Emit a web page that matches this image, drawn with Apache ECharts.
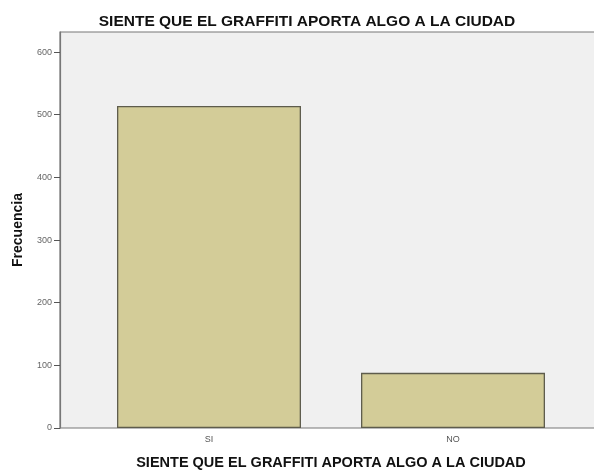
<!DOCTYPE html>
<html>
<head>
<meta charset="utf-8">
<script src="https://cdn.jsdelivr.net/npm/echarts@6/dist/echarts.min.js"></script>
<style>
  html, body { margin: 0; padding: 0; background: #fff; }
  #chart { width: 594px; height: 472px; }
</style>
</head>
<body>
<div id="chart"></div>
<script>
const titleText = "SIENTE QUE EL GRAFFITI APORTA ALGO A LA CIUDAD";
const categories = ["SI", "NO"];
const frecuencia = [514, 88];
const yTicks = [0, 100, 200, 300, 400, 500, 600];

const chart = echarts.init(document.getElementById("chart"));

chart.setOption({
  animation: false,
  textStyle: { fontFamily: "Liberation Sans, Arial, sans-serif" },
  title: {
    text: titleText,
    left: 302,
    top: 9,
    textAlign: "center",
    textStyle: { fontSize: 15.5, fontWeight: "bold", color: "#111" },
  },
  // plot background, extends past the category band like the SPSS frame
  graphic: [
    {
      type: "rect",
      z: -10,
      shape: { x: 60, y: 32, width: 545, height: 396 },
      style: { fill: "#f0f0f0", stroke: "#777", lineWidth: 1.2 },
    },
  ],
  grid: { left: 87, right: 19, top: 32, bottom: 44, outerBoundsMode: "none", containLabel: false },
  xAxis: {
    type: "category",
    data: categories,
    name: titleText,
    nameLocation: "middle",
    nameGap: 27,
    nameTextStyle: { fontSize: 14.5, fontWeight: "bold", color: "#111" },
    axisLine: { show: false },
    axisTick: { alignWithLabel: true, length: 5, lineStyle: { color: "#555" } },
    axisLabel: { fontSize: 9, color: "#555", margin: 7 },
  },
  yAxis: {
    type: "value",
    min: 0,
    max: 632,
    offset: 27,
    name: "Frecuencia",
    nameLocation: "middle",
    nameGap: 35,
    nameTextStyle: { fontSize: 14, fontWeight: "bold", color: "#111" },
    splitLine: { show: false },
    axisLine: { show: true, lineStyle: { color: "#777", width: 1.2 } },
    axisTick: { show: true, length: 6, customValues: yTicks, lineStyle: { color: "#555" } },
    axisLabel: { fontSize: 9, color: "#666", margin: 8, customValues: yTicks },
  },
  series: [
    {
      type: "bar",
      data: frecuencia,
      barCategoryGap: "24.6%",
      itemStyle: { color: "#d3cc98", borderColor: "#5e5c4c", borderWidth: 1.3 },
    },
  ],
});
</script>
</body>
</html>
